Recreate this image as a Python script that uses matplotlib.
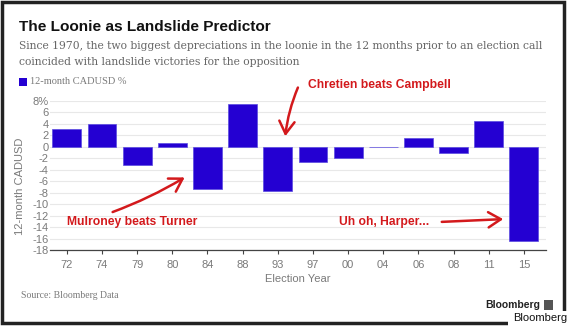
import matplotlib.pyplot as plt
from matplotlib.patches import Rectangle

years = ['72', '74', '79', '80', '84', '88', '93', '97', '00', '04', '06', '08', '11', '15']
cadusd = [3.2, 3.9, -3.1, 0.6, -7.3, 7.4, -7.7, -2.6, -2.0, -0.1, 1.5, -1.0, 4.5, -16.5]
yticks = list(range(-18, 9, 2))
ytick_labels = [str(t) for t in yticks[:-1]] + ['8%']

W, H = 570, 326
BLUE = '#2400d2'
RED = '#d3191c'
GREY = '#7a7a7a'


def fp(x, y):
    # pixel position from top-left -> figure fraction
    return (x / W, 1 - y / H)


fig = plt.figure(figsize=(W / 100, H / 100), dpi=100)
fig.patch.set_facecolor('white')

ax = fig.add_axes([50 / W, 1 - 250 / H, (546 - 50) / W, (250 - 101) / H])
x = range(len(years))
ax.bar(x, cadusd, width=0.82, color=BLUE, edgecolor='#5a4ae0', linewidth=0.5, zorder=3)
ax.set_xlim(-0.48, len(years) - 0.37)
ax.set_ylim(-18, 8)
ax.set_xticks(list(x))
ax.set_xticklabels(years, color=GREY, fontsize=8, family='Liberation Sans')
ax.set_yticks(yticks)
ax.set_yticklabels(ytick_labels, color=GREY, fontsize=8, family='Liberation Sans')
ax.tick_params(axis='y', length=0, pad=1)
ax.tick_params(axis='x', length=3, color='#444444', pad=4)
ax.grid(axis='y', color='#e8e8e8', linewidth=0.8, zorder=0)
for s in ['top', 'right', 'left']:
    ax.spines[s].set_visible(False)
ax.spines['bottom'].set_color('#444444')
ax.spines['bottom'].set_linewidth(0.9)
ax.set_ylabel('12-month CADUSD', color=GREY, fontsize=8, family='Liberation Sans')
ax.yaxis.set_label_coords(-0.05, 0.43)
ax.set_xlabel('Election Year', color=GREY, fontsize=8, family='Liberation Sans', labelpad=3)

# header
fig.text(*fp(19, 27), 'The Loonie as Landslide Predictor', fontsize=11.1, fontweight='bold',
         family='Liberation Sans', color='#111111', va='center')
fig.text(*fp(19, 46), 'Since 1970, the two biggest depreciations in the loonie in the 12 months prior to an election call',
         fontsize=7.75, family='DejaVu Serif', color='#666666', va='center')
fig.text(*fp(19, 62), 'coincided with landslide victories for the opposition',
         fontsize=7.75, family='DejaVu Serif', color='#666666', va='center')
fig.patches.append(Rectangle(fp(19, 86), 8 / W, 8 / H, transform=fig.transFigure,
                             facecolor=BLUE, edgecolor='none'))
fig.text(*fp(30, 82), '12-month CADUSD %', fontsize=7.5, family='Liberation Serif', color=GREY, va='center')

# annotations
arrow = dict(arrowstyle='->,head_length=0.9,head_width=0.55', color=RED, lw=1.8)
ax.annotate('Chretien beats Campbell', xy=fp(308, 85), xycoords='figure fraction',
            ha='left', va='center', fontsize=8.7, fontweight='bold', family='Liberation Sans', color=RED)
ax.annotate('', xy=fp(285, 139), xycoords='figure fraction', xytext=fp(299, 85),
            textcoords='figure fraction', arrowprops=dict(arrow, connectionstyle='arc3,rad=0.08'))
ax.annotate('Mulroney beats Turner', xy=fp(67, 222), xycoords='figure fraction',
            ha='left', va='center', fontsize=8.7, fontweight='bold', family='Liberation Sans', color=RED)
ax.annotate('', xy=fp(187, 176), xycoords='figure fraction', xytext=fp(110, 213),
            textcoords='figure fraction', arrowprops=dict(arrow, connectionstyle='arc3,rad=0.05'))
ax.annotate('Uh oh, Harper...', xy=fp(339, 222), xycoords='figure fraction',
            ha='left', va='center', fontsize=8.7, fontweight='bold', family='Liberation Sans', color=RED)
ax.annotate('', xy=fp(506, 219), xycoords='figure fraction', xytext=fp(439, 222),
            textcoords='figure fraction', arrowprops=arrow)

# footer
fig.text(*fp(21, 296), 'Source: Bloomberg Data', fontsize=7, family='Liberation Serif', color=GREY, va='center')
fig.text(*fp(540, 305), 'Bloomberg', fontsize=7.5, fontweight='bold', family='Liberation Sans',
         color='#222222', va='center', ha='right')
fig.patches.append(Rectangle(fp(544, 310), 9 / W, 10 / H, transform=fig.transFigure,
                             facecolor='#555555', edgecolor='none'))

# frame
fig.patches.append(Rectangle(fp(2, 323), 562 / W, 321 / H, transform=fig.transFigure,
                             facecolor='none', edgecolor='#222222', linewidth=2.5))
fig.patches.append(Rectangle(fp(508, 326), 62 / W, 15 / H, transform=fig.transFigure,
                             facecolor='white', edgecolor='none', zorder=5))
fig.text(*fp(567, 318), 'Bloomberg', fontsize=8, family='Liberation Sans', color='#111111',
         va='center', ha='right', zorder=6)

fig.savefig('out.png', dpi=100)
